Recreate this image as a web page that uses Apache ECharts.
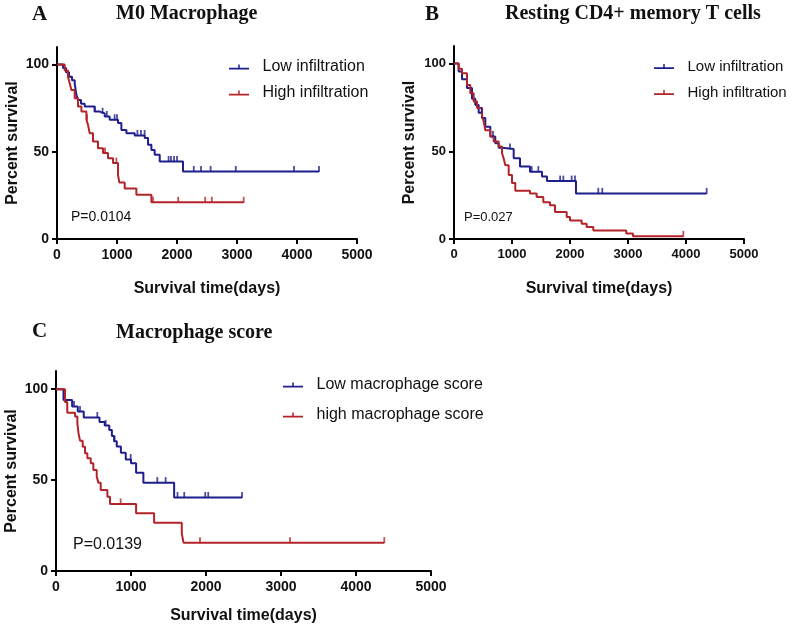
<!DOCTYPE html>
<html>
<head>
<meta charset="utf-8">
<script src="https://cdn.jsdelivr.net/npm/echarts@6/dist/echarts.min.js"></script>
<style>html,body{margin:0;padding:0;background:#fff;}#c{width:792px;height:629px;}</style>
</head>
<body>
<div id="c"></div>
<script>
// ---------- data (days, percent survival after each event) ----------
const xTicks = [0, 1000, 2000, 3000, 4000, 5000];
const yTicks = [0, 50, 100];

// Panel A: M0 Macrophage
const aLowT  = [0, 100, 150, 200, 250, 295, 323, 350, 400, 462, 628, 711, 795, 878, 1017, 1073, 1157, 1295, 1462, 1517, 1573, 1628, 1712, 2100, 4367];
const aLowS  = [100, 98, 95.5, 93, 91, 89.2, 82.6, 79.7, 77.5, 75.9, 73, 72, 70.2, 68.3, 66.4, 62.5, 60.6, 59.3, 57.8, 54, 51, 48.2, 44.4, 38.7, 38.7];
const aLowCens = [628, 760, 830, 960, 1000, 1340, 1400, 1460, 1860, 1900, 1950, 2000, 2280, 2400, 2560, 2980, 3950, 4367];
const aHighT = [0, 128, 183, 212, 240, 295, 350, 407, 490, 517, 545, 600, 683, 767, 850, 933, 1017, 1040, 1128, 1323, 1573, 3111];
const aHighS = [100, 96.5, 93, 89.2, 85.4, 80.7, 75.9, 73, 68.3, 65.4, 60.6, 55.9, 52, 49.2, 46.3, 43.5, 36.6, 32.3, 29, 25.3, 21, 21];
const aHighCens = [500, 800, 990, 1600, 2020, 2470, 2580, 3111];

// Panel B: Resting CD4+ memory T cells
const bLowT  = [0, 80, 138, 224, 310, 367, 425, 483, 540, 626, 712, 770, 828, 1029, 1138, 1310, 1517, 1603, 2103, 4356];
const bLowS  = [100, 95.5, 91, 86, 80, 76.4, 72, 68.9, 64, 58.4, 54.6, 52, 51.3, 46, 41.3, 38.4, 35.6, 33, 26, 26];
const bLowCens = [477, 672, 965, 1138, 1339, 1454, 1830, 1885, 2029, 2086, 2488, 2557, 4356];
const bHighT = [0, 80, 138, 224, 281, 339, 397, 483, 512, 540, 626, 684, 770, 828, 856, 885, 943, 1000, 1057, 1310, 1425, 1540, 1655, 1741, 1943, 2000, 2201, 2287, 2402, 2970, 3085, 3954];
const bHighS = [100, 97, 94.5, 87.8, 83, 78.4, 74.6, 70, 67, 62, 58.4, 55.6, 52.7, 48.9, 46, 42, 36.5, 31.9, 27.5, 25.9, 24, 21, 19.2, 15.4, 12.5, 10.6, 8.7, 6.8, 4.9, 3.2, 1.5, 1.5];
const bHighCens = [3954];

// Panel C: Macrophage score
const cLowT  = [0, 100, 215, 290, 370, 580, 650, 710, 745, 775, 810, 865, 930, 1000, 1068, 1165, 1575, 2480];
const cLowS  = [100, 94.1, 90.5, 87.7, 84.4, 82, 80, 77.5, 74.2, 71.4, 68.5, 65, 61.3, 59.3, 54, 48.6, 40.4, 40.4];
const cLowCens = [240, 320, 551, 662, 780, 996, 1351, 1462, 1620, 1710, 1990, 2030, 2480];
const cHighT = [0, 120, 150, 254, 285, 300, 320, 356, 387, 418, 463, 498, 543, 565, 596, 685, 720, 1068, 1308, 1677, 1700, 4377];
const cHighS = [100, 93, 87, 85, 81, 75.8, 71.7, 68.4, 64.8, 62, 59.3, 55.6, 51.9, 48.6, 44.6, 40.9, 36.9, 31.7, 26.6, 20.7, 15.6, 15.6];
const cHighCens = [862, 1920, 3120, 4377];

// ---------- helpers ----------
const BLUE = '#1e1e8c', RED = '#b3242a';
const ICON = 'path://M0,5H24V7.2H0Z M11.1,1.2H12.9V5H11.1Z';
function pairs(T, S) { return T.map((t, i) => [t, S[i]]); }
function survAt(T, S, t) { let v = S[0]; for (let i = 0; i < T.length; i++) { if (T[i] <= t) v = S[i]; } return v; }
function cens(T, S, C) { return C.map(t => [t, survAt(T, S, t)]); }

function axes(idx, fs) {
  const x = {
    type: 'value', gridIndex: idx, min: 0, max: 5000, interval: 1000,
    name: 'Survival time(days)', nameLocation: 'middle', nameGap: idx === 2 ? 37 : 42,
    nameTextStyle: { fontFamily: 'Liberation Sans', fontWeight: 'bold', fontSize: 16, color: '#111' },
    axisLine: { show: true, lineStyle: { color: '#000', width: 2 } },
    axisTick: { show: true, length: 5, lineStyle: { color: '#000', width: 2 } },
    axisLabel: { color: '#111', fontFamily: 'Liberation Sans', fontWeight: 'bold', fontSize: fs, margin: 9,
      formatter: v => String(v) },
    splitLine: { show: false }
  };
  const y = {
    type: 'value', gridIndex: idx, min: 0, max: 110,
    name: 'Percent survival', nameLocation: 'middle', nameRotate: 90, nameGap: 36,
    nameTextStyle: { fontFamily: 'Liberation Sans', fontWeight: 'bold', fontSize: 16, color: '#111' },
    axisLine: { show: true, lineStyle: { color: '#000', width: 2 } },
    axisTick: { show: true, length: 5, lineStyle: { color: '#000', width: 2 }, customValues: yTicks },
    axisLabel: { color: '#111', fontFamily: 'Liberation Sans', fontWeight: 'bold', fontSize: fs, margin: 8, customValues: yTicks },
    splitLine: { show: false }
  };
  return [x, y];
}
function kmSeries(name, idx, T, S, C, color) {
  return [
    { name: name, type: 'line', xAxisIndex: idx, yAxisIndex: idx, step: 'end', data: pairs(T, S),
      showSymbol: false, symbol: 'none', color: color, lineStyle: { color: color, width: 2 }, itemStyle: { color: color }, silent: true, z: 3 },
    { name: name + ' censored', type: 'scatter', xAxisIndex: idx, yAxisIndex: idx, data: cens(T, S, C),
      symbol: 'rect', symbolSize: [1.8, 6], symbolOffset: [0, -2.5], itemStyle: { color: color }, silent: true, z: 4 }
  ];
}
function legendAt(left, top, names, fs, gap) {
  return {
    orient: 'vertical', left: left, top: top, itemWidth: 21, itemHeight: 5, itemGap: gap, padding: 0,
    selectedMode: false,
    textStyle: { fontFamily: 'Liberation Sans', fontSize: fs, color: '#111', padding: [0, 0, 0, 8] },
    data: [
      { name: names[0], icon: ICON, itemStyle: { color: BLUE, borderWidth: 0 } },
      { name: names[1], icon: ICON, itemStyle: { color: RED, borderWidth: 0 } }
    ]
  };
}
function txt(text, left, top, fs, serif, bold) {
  return { text: text, left: left, top: top, padding: 0,
    textStyle: { fontFamily: serif ? 'Liberation Serif' : 'Liberation Sans', fontWeight: bold ? 'bold' : 'normal', fontSize: fs, color: '#111' } };
}

const axA = axes(0, 14), axB = axes(1, 13), axC = axes(2, 14);
const option = {
  animation: false,
  backgroundColor: '#fff',
  title: [
    txt('A', 32, 4, 21, true, true), txt('M0 Macrophage', 116, 4, 20, true, true),
    txt('B', 425, 4, 21, true, true), txt('Resting CD4+ memory T cells', 505, 4, 20, true, true),
    txt('C', 32, 321, 21, true, true), txt('Macrophage score', 116, 323, 20, true, true),
    txt('P=0.0104', 71, 210, 14, false, false),
    txt('P=0.027', 464, 211, 13, false, false),
    txt('P=0.0139', 73, 537, 16, false, false)
  ],
  legend: [
    legendAt(229, 59, ['Low infiltration', 'High infiltration'], 16, 10),
    legendAt(654, 59, ['Low infiltration', 'High infiltration'], 15, 11),
    legendAt(283, 377, ['Low macrophage score', 'high macrophage score'], 16, 14)
  ],
  grid: [
    { left: 57, top: 47, width: 300, height: 192 },
    { left: 454, top: 46, width: 290, height: 193 },
    { left: 56, top: 371, width: 375, height: 200 }
  ],
  xAxis: [axA[0], axB[0], axC[0]],
  yAxis: [axA[1], axB[1], axC[1]],
  series: [].concat(
    kmSeries('Low infiltration', 0, aLowT, aLowS, aLowCens, BLUE),
    kmSeries('High infiltration', 0, aHighT, aHighS, aHighCens, RED),
    kmSeries('Low infiltration', 1, bLowT, bLowS, bLowCens, BLUE),
    kmSeries('High infiltration', 1, bHighT, bHighS, bHighCens, RED),
    kmSeries('Low macrophage score', 2, cLowT, cLowS, cLowCens, BLUE),
    kmSeries('high macrophage score', 2, cHighT, cHighS, cHighCens, RED)
  )
};
const chart = echarts.init(document.getElementById('c'), null, { renderer: 'canvas' });
chart.setOption(option);
</script>
</body>
</html>
